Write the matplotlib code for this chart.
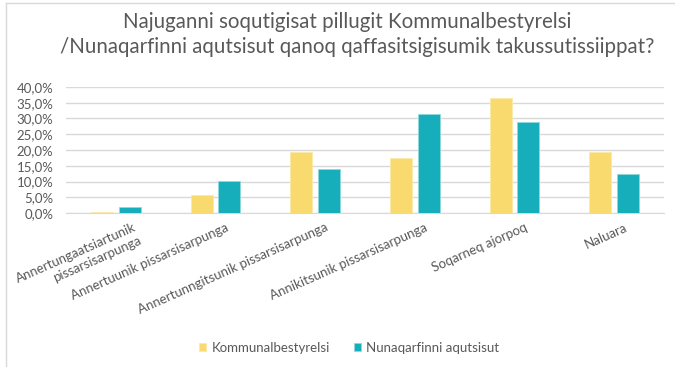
import matplotlib
matplotlib.use("Agg")
import matplotlib.pyplot as plt
import matplotlib.transforms as mtransforms
import numpy as np
from matplotlib.ticker import FuncFormatter
from matplotlib.lines import Line2D

kategoriit = [
    "Annertungaatsiartunik\npissarsisarpunga",
    "Annertuunik pissarsisarpunga",
    "Annertunngitsunik pissarsisarpunga",
    "Annikitsunik pissarsisarpunga",
    "Soqarneq ajorpoq",
    "Naluara",
]
kommunalbestyrelsi = [0.4, 5.8, 19.4, 17.5, 36.6, 19.5]
nunaqarfinni = [2.0, 10.3, 13.9, 31.4, 29.0, 12.5]
yticks = [0, 5, 10, 15, 20, 25, 30, 35, 40]

qaaqortaq = "#F9DA6E"
tungujortoq = "#16AEBB"
tekst = "#595959"

plt.rcParams["font.family"] = ["Lato", "DejaVu Sans"]

fig = plt.figure(figsize=(6.75, 3.67), dpi=100)
ax = fig.add_axes([66 / 675, 1 - 213 / 367, 598 / 675, 126 / 367])

x = np.arange(len(kategoriit))
b = 0.22
ax.bar(x - 0.14, kommunalbestyrelsi, b, color=qaaqortaq, edgecolor="#fbe9a8", linewidth=0.6,
       label="Kommunalbestyrelsi", zorder=3)
ax.bar(x + 0.14, nunaqarfinni, b, color=tungujortoq, edgecolor="#8fd8de", linewidth=0.6,
       label="Nunaqarfinni aqutsisut", zorder=3)

ax.set_xlim(-0.5, len(kategoriit) - 0.5)
ax.set_ylim(0, 40)
ax.set_yticks(yticks)
ax.yaxis.set_major_formatter(FuncFormatter(lambda v, p: f"{v:.1f}%".replace(".", ",")))
ax.grid(axis="y", color="#d9d9d9", linewidth=1, zorder=0)
for s in ["top", "right", "left"]:
    ax.spines[s].set_visible(False)
ax.spines["bottom"].set_color("#d9d9d9")
ax.tick_params(axis="y", length=0, labelsize=9.5, labelcolor=tekst, pad=9)
ax.tick_params(axis="x", length=0, labelsize=9.5, labelcolor=tekst, pad=6)
ax.set_xticks(x + 0.1)
ax.set_xticklabels(kategoriit, rotation=24, ha="right", va="top", rotation_mode="anchor",
                   multialignment="center")

# kategori siulleq marlunnik titarnilik: talerpiliuttagaq, illuanut nuunneqarpoq
lbl0 = ax.get_xticklabels()[0]
lbl0.set_multialignment("right")
lbl0.set_transform(lbl0.get_transform() + mtransforms.ScaledTranslation(7 / 100, 0, fig.dpi_scale_trans))

fig.text(347 / 675, 1 - 28 / 367, "Najuganni soqutigisat pillugit Kommunalbestyrelsi", ha="center",
         va="baseline", fontsize=14.8, color=tekst)
fig.text(357 / 675, 1 - 53 / 367, "/Nunaqarfinni aqutsisut qanoq qaffasitsigisumik takussutissiippat?",
         ha="center", va="baseline", fontsize=14.8, color=tekst)

fig.legend(loc="center left", bbox_to_anchor=(199 / 675, 1 - 348 / 367), ncol=2, frameon=False,
           fontsize=9.5, labelcolor=tekst, handlelength=0.55, handleheight=0.55, handletextpad=0.4,
           columnspacing=1.8, borderpad=0, borderaxespad=0)

# kant qulaani saamernilu
fig.add_artist(Line2D([6 / 675, 1], [1 - 3 / 367, 1 - 3 / 367], color="#d9d9d9", linewidth=1))
fig.add_artist(Line2D([6 / 675, 6 / 675], [0, 1 - 3 / 367], color="#d9d9d9", linewidth=1))

fig.savefig("out.png", dpi=100)
